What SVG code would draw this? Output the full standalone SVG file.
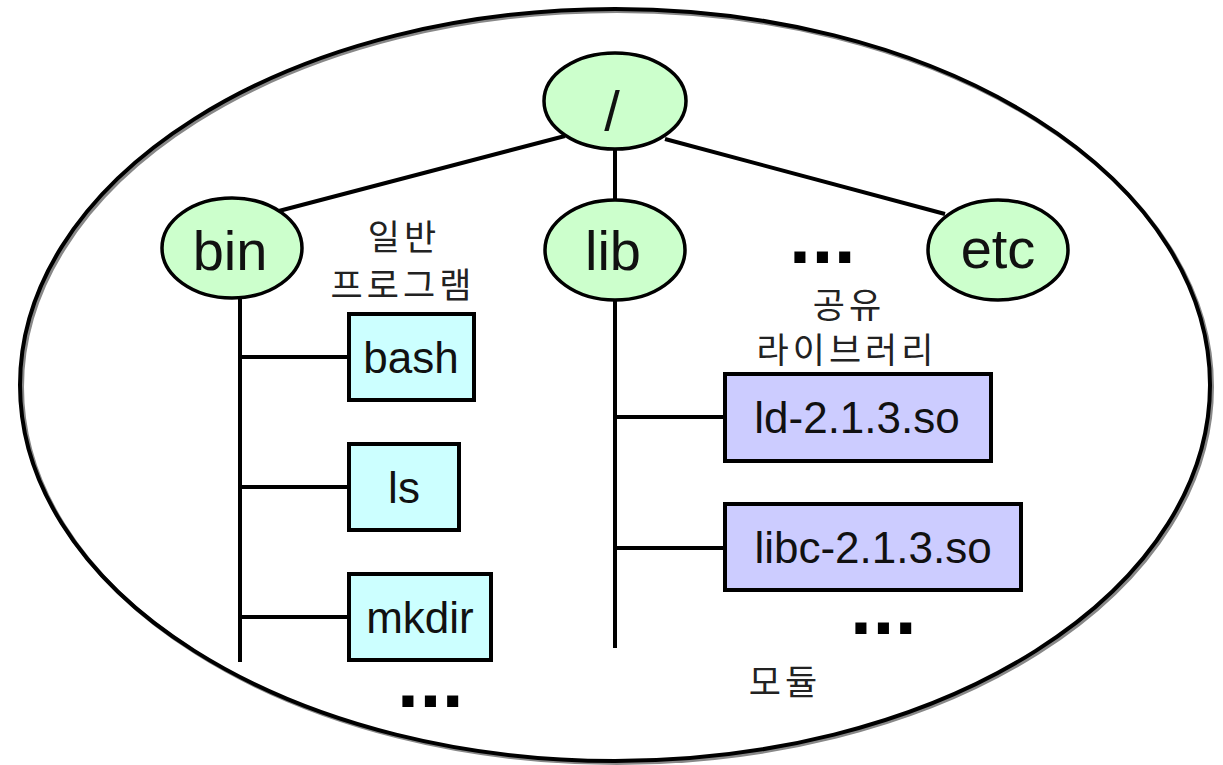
<svg xmlns="http://www.w3.org/2000/svg" width="1223" height="765" viewBox="0 0 1223 765">
  <style>
    .dir { fill: #ccffcc; stroke: #000; stroke-width: 3.5; }
    .prog { fill: #ccffff; stroke: #000; stroke-width: 4; }
    .lib { fill: #ccccff; stroke: #000; stroke-width: 4; }
    .link { stroke: #000; stroke-width: 4; fill: none; }
    .big { font-family: "Liberation Sans", Arial, sans-serif; font-size: 56px; fill: #111; text-anchor: middle; }
    .name { font-family: "Liberation Sans", Arial, sans-serif; font-size: 44px; fill: #111; text-anchor: middle; }
    .ko { font-family: "Liberation Sans", "Noto Sans CJK KR", sans-serif; font-size: 35px; fill: #222; text-anchor: middle; letter-spacing: 4px; }
    .dots { font-family: "Liberation Sans", Arial, sans-serif; font-size: 50px; font-weight: bold; fill: #000; stroke: #000; stroke-width: 4; stroke-linejoin: miter; letter-spacing: 8.5px; }
  </style>

  <rect width="1223" height="765" fill="#fff"/>

  <!-- file system boundary -->
  <g id="filesystem">
    <ellipse cx="617" cy="387" rx="595" ry="376" fill="none" stroke="#888" stroke-width="4"/>
    <ellipse cx="615" cy="385" rx="595" ry="376" fill="none" stroke="#000" stroke-width="4"/>
  </g>

  <!-- tree links -->
  <g id="connectors">
    <line class="link" x1="565" y1="136" x2="275" y2="212"/>
    <line class="link" x1="665" y1="139" x2="945" y2="214"/>
    <line class="link" x1="615" y1="140" x2="615" y2="210"/>
    <line class="link" x1="240" y1="290" x2="240" y2="662"/>
    <line class="link" x1="240" y1="357" x2="350" y2="357"/>
    <line class="link" x1="240" y1="487" x2="350" y2="487"/>
    <line class="link" x1="240" y1="617" x2="350" y2="617"/>
    <line class="link" x1="615" y1="290" x2="615" y2="648"/>
    <line class="link" x1="615" y1="417" x2="726" y2="417"/>
    <line class="link" x1="615" y1="548" x2="726" y2="548"/>
  </g>

  <g id="root">
    <ellipse class="dir" cx="615" cy="101" rx="71" ry="48"/>
    <text class="big" x="612" y="130" font-size="62">/</text>
  </g>

  <g id="bin">
    <ellipse class="dir" cx="232" cy="248" rx="70" ry="50"/>
    <text class="big" x="230" y="270">bin</text>
  </g>

  <g id="lib">
    <ellipse class="dir" cx="615" cy="250" rx="70" ry="50"/>
    <text class="big" x="613" y="270">lib</text>
  </g>

  <g id="etc">
    <ellipse class="dir" cx="998" cy="250" rx="70" ry="50"/>
    <text class="big" x="998" y="268">etc</text>
  </g>

  <g id="label-programs">
    <text class="ko" x="404" y="250">일반</text>
    <text class="ko" x="403" y="298">프로그램</text>
  </g>

  <g id="bash">
    <rect class="prog" x="349" y="314" width="125" height="86"/>
    <text class="name" x="411" y="373">bash</text>
  </g>

  <g id="ls">
    <rect class="prog" x="349" y="444" width="110" height="86"/>
    <text class="name" x="404" y="503">ls</text>
  </g>

  <g id="mkdir">
    <rect class="prog" x="349" y="574" width="142" height="86"/>
    <text class="name" x="420" y="633">mkdir</text>
  </g>

  <g id="label-libraries">
    <text class="ko" x="849" y="318">공유</text>
    <text class="ko" x="847" y="363">라이브러리</text>
  </g>

  <g id="ld">
    <rect class="lib" x="725" y="374" width="266" height="87"/>
    <text class="name" x="857" y="433">ld-2.1.3.so</text>
  </g>

  <g id="libc">
    <rect class="lib" x="725" y="504" width="296" height="86"/>
    <text class="name" x="873" y="563">libc-2.1.3.so</text>
  </g>

  <g id="label-modules">
    <text class="ko" x="785" y="695">모듈</text>
  </g>

  <g id="more">
    <text class="dots" x="793" y="261">...</text>
    <text class="dots" x="854" y="632">...</text>
    <text class="dots" x="401" y="705">...</text>
  </g>
</svg>
